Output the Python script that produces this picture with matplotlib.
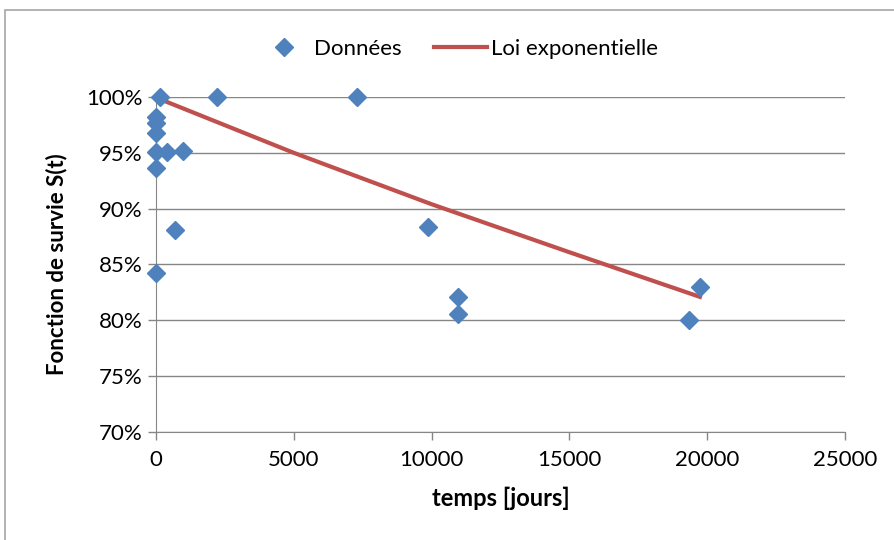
import matplotlib.pyplot as plt
from matplotlib.patches import Rectangle
from matplotlib.ticker import FuncFormatter

# donnees
temps = [145, 0, 0, 0, 0, 400, 980, 0, 690, 0, 2210, 7290, 9870, 10960, 10960, 19340, 19740]
survie = [100, 98.2, 97.7, 96.8, 95.1, 95.1, 95.2, 93.6, 88.1, 84.2, 100, 100, 88.4, 82.1, 80.6, 80.0, 83.0]

# loi exponentielle (courbe lue)
temps_loi = [150, 5000, 10000, 15000, 19740]
survie_loi = [99.8, 95.0, 90.4, 86.1, 82.1]

plt.rcParams['font.family'] = ['Lato', 'DejaVu Sans']

fig = plt.figure(figsize=(8.94, 5.4), dpi=100)
fig.patches.append(Rectangle((5/894, -0.1), 1.2, 1 - 10/540 + 0.1, transform=fig.transFigure,
                             fill=False, edgecolor='#a6a6a6', linewidth=1.2))

ax = fig.add_axes([0.1745, 0.2, 0.7705, 0.6204])
ax.plot(temps, survie, linestyle='none', marker='D', markersize=9, color='#4f81bd',
        label='Données', zorder=3, clip_on=False)
ax.plot(temps_loi, survie_loi, color='#c0504d', linewidth=3, label='Loi exponentielle', zorder=2)

ax.set_xlim(0, 25000)
ax.set_ylim(70, 100)
ax.set_xticks(range(0, 25001, 5000))
ax.set_yticks(range(70, 101, 5))
ax.yaxis.set_major_formatter(FuncFormatter(lambda v, p: '%d%%' % v))
ax.grid(axis='y', color='#868686', linewidth=1)
ax.set_axisbelow(True)
for s in ['top', 'right']:
    ax.spines[s].set_visible(False)
for s in ['left', 'bottom']:
    ax.spines[s].set_color('#868686')
ax.tick_params(colors='#868686', labelcolor='black', labelsize=16, length=6, width=1)
ax.tick_params(axis='x', pad=7)

ax.set_xlabel('temps [jours]', fontsize=17, fontweight='bold', labelpad=12)
ax.set_ylabel('Fonction de survie S(t)', fontsize=16, fontweight='bold', labelpad=14)

ax.legend(loc='lower center', bbox_to_anchor=(0.438, 1.055), ncol=2, frameon=False, fontsize=16,
          handlelength=2.4, columnspacing=1.45, handletextpad=0.15)

plt.savefig('out.png')
